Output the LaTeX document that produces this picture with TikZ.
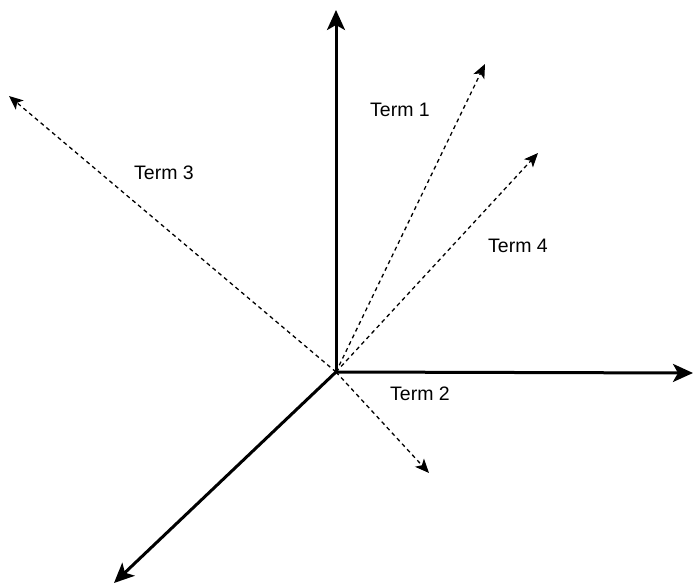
\documentclass[tikz,border=0pt]{standalone}
\usepackage{fontspec}
\setmainfont{Liberation Sans}
\usetikzlibrary{arrows.meta}
\begin{document}
\begin{tikzpicture}[x=1pt,y=-1pt,
  axis/.style={line width=3pt,-{Stealth[length=20pt,width=18pt,inset=5pt]}},
  vec/.style={line width=1.3pt,dash pattern=on 4pt off 3.5pt,-{Stealth[length=14pt,width=12pt,inset=3.5pt]}},
  lbl/.style={font=\fontsize{19.5}{22}\selectfont,inner sep=0pt}]
\useasboundingbox (0,0) rectangle (694,588);
\coordinate (O) at (336,372);
\coordinate (up) at (336,10);
\coordinate (right) at (693,373);
\coordinate (dl) at (114,583);
\coordinate (t1) at (485,64);
\coordinate (t4) at (538,153);
\coordinate (t3) at (9,96);
\coordinate (t2) at (429,473);
\draw[axis] (O) -- (up);
\draw[axis] (O) -- (right);
\draw[axis] (O) -- (dl);
\draw[vec] (O) -- (t1);
\draw[vec] (O) -- (t4);
\draw[vec] (O) -- (t3);
\draw[vec] (O) -- (t2);
\node[lbl] (l1) at (400,110) {Term 1};
\node[lbl] (l3) at (164,173) {Term 3};
\node[lbl] (l4) at (518,246) {Term 4};
\node[lbl] (l2) at (420,394) {Term 2};
\end{tikzpicture}
\end{document}
